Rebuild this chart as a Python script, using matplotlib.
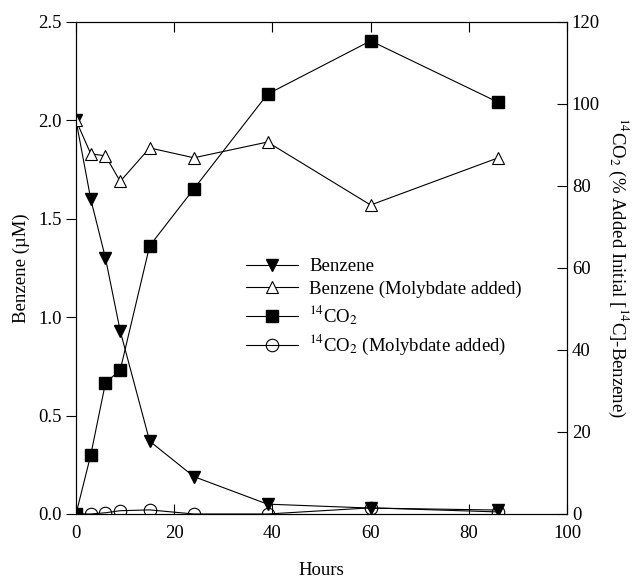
import numpy as np
import matplotlib
matplotlib.use("Agg")
import matplotlib.pyplot as plt

plt.rcParams["font.family"] = ["Liberation Serif", "DejaVu Serif"]
plt.rcParams["mathtext.fontset"] = "stix"

# data
hours = [0, 3, 6, 9, 15, 24, 39, 60, 86]
benzene = [2.0, 1.6, 1.3, 0.93, 0.37, 0.19, 0.05, 0.03, 0.02]
benzene_moly = [2.0, 1.83, 1.82, 1.69, 1.86, 1.81, 1.89, 1.57, 1.81]
co2 = [0, 14.4, 32.0, 35.1, 65.4, 79.3, 102.4, 115.4, 100.4]
co2_moly = [0, 0, 0.3, 0.8, 1.0, 0, 0, 1.5, 0.5]

fig = plt.figure(figsize=(6.41, 5.77), dpi=100)
ax1 = fig.add_axes([0.1186, 0.1092, 0.766, 0.8527])
ax2 = ax1.twinx()

ms = 9
lw = 0.8
h1, = ax1.plot(hours, benzene, color="black", lw=lw, marker="v", ms=ms,
               mfc="black", mec="black")
h2, = ax1.plot(hours, benzene_moly, color="black", lw=lw, marker="^", ms=ms,
               mfc="white", mec="black", mew=0.8)
h3, = ax2.plot(hours, co2, color="black", lw=lw, marker="s", ms=ms - 1,
               mfc="black", mec="black")
h4, = ax2.plot(hours, co2_moly, color="black", lw=lw, marker="o", ms=ms,
               mfc="none", mec="black", mew=0.8)

ax1.set_xlim(0, 100)
ax1.set_ylim(0, 2.5)
ax2.set_ylim(0, 120)
ax1.set_xticks(np.arange(0, 101, 20))
ax1.set_yticks(np.arange(0, 2.51, 0.5))
ax2.set_yticks(np.arange(0, 121, 20))

fs = 13.5
ax1.tick_params(axis="x", direction="in", top=True, labelsize=fs, length=7,
                width=0.8, pad=8)
ax1.tick_params(axis="y", direction="out", labelsize=fs, length=7, width=0.8)
ax2.tick_params(axis="y", direction="in", labelsize=fs, length=7, width=0.8)
for ax in (ax1, ax2):
    for s in ax.spines.values():
        s.set_linewidth(0.8)

ax1.set_xlabel("Hours", fontsize=fs, labelpad=14)
ax1.set_ylabel("Benzene (\u00b5M)", fontsize=fs, labelpad=6)
ax2.set_ylabel(r"$^{14}$CO$_2$ (% Added Initial [$^{14}$C]-Benzene)",
               fontsize=fs, rotation=270, labelpad=22)

leg = fig.legend([h1, h2, h3, h4],
                 ["Benzene", "Benzene (Molybdate added)",
                  r"$^{14}$CO$_2$", r"$^{14}$CO$_2$ (Molybdate added)"],
                 loc="upper left", bbox_to_anchor=(0.357, 0.582),
                 frameon=False, fontsize=fs, handlelength=2.8,
                 handletextpad=0.6, labelspacing=0.3)

fig.savefig("out.png", dpi=100)
